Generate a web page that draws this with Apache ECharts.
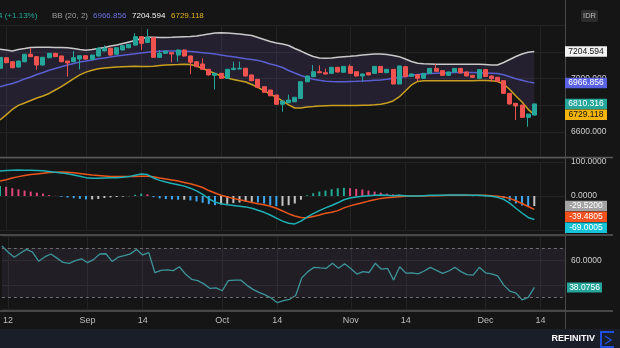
<!DOCTYPE html>
<html><head><meta charset="utf-8">
<script src="https://cdn.jsdelivr.net/npm/echarts/dist/echarts.min.js"></script>
<style>html,body{margin:0;padding:0;background:#151515;}#c{width:620px;height:348px;}</style>
</head><body><div id="c"></div><script>
// ---------- data ----------
const dates = [
 '08-11','08-12','08-15','08-16','08-18','08-19','08-22','08-23','08-24','08-25','08-26','08-29','08-30','08-31',
 '09-01','09-02','09-05','09-06','09-07','09-08','09-09','09-12','09-13','09-14','09-15','09-16','09-19','09-20','09-21','09-22','09-23','09-26','09-27','09-28','09-29','09-30',
 '10-03','10-04','10-05','10-06','10-07','10-10','10-11','10-12','10-13','10-14','10-17','10-18','10-19','10-20','10-21','10-24','10-25','10-26','10-27','10-28','10-31',
 '11-01','11-02','11-03','11-04','11-07','11-08','11-09','11-10','11-11','11-14','11-15','11-16','11-17','11-18','11-21','11-22','11-23','11-24','11-25','11-28','11-29','11-30',
 '12-01','12-02','12-05','12-06','12-07','12-08','12-09','12-12','12-13',
 '12-14','12-15','12-16','12-19','12-20'
];
const tickDates = ['08-12','09-01','09-14','10-03','10-14','11-01','11-14','12-01','12-14'];
const tickLabels = ['12','Sep','14','Oct','14','Nov','14','Dec','14'];

const opens = [7078,7157,7127,7087,7127,7183,7165,7102,7157,7190,
 7170,7132,7127,7147,7172,7145,7170,7208,7228,7183,
 7215,7232,7252,7315,7272,7307,7160,7190,7195,7177,
 7215,7170,7127,7110,7070,7025,7040,7003,7068,7073,
 7078,7028,6995,6940,6915,6877,6808,6820,6827,6852,
 6977,7015,7052,7045,7040,7085,7048,7092,7052,7020,
 7045,7040,7092,7045,7070,6960,7090,7018,7030,7003,
 7040,7077,7060,7025,7050,7077,7050,7025,7003,7068,
 7020,7010,6985,6890,6815,6802,6710,6727];
const closes = [7160,7120,7082,7132,7183,7165,7102,7160,7190,7165,
 7127,7118,7157,7172,7147,7177,7228,7228,7177,7232,
 7247,7257,7315,7265,7310,7160,7190,7207,7185,7215,
 7170,7123,7090,7070,7028,7040,7003,7070,7078,7078,
 7020,6985,6935,6898,6872,6808,6832,6840,6860,6977,
 7020,7052,7045,7035,7085,7050,7092,7040,7020,7035,
 7028,7092,7047,7070,6960,7095,7015,7035,7003,7040,
 7077,7055,7025,7050,7077,7043,7020,7010,7068,7017,
 7000,6980,6890,6810,6795,6710,6734,6810.316];
const lows = [7070,7115,7078,7083,7122,7160,7065,7098,7153,7162,
 7123,7015,7123,7070,7143,7141,7166,7204,7173,7179,
 7211,7228,7248,7215,7268,7156,7156,7186,7123,7127,
 7166,7033,7086,7066,7024,6920,6999,6999,7064,7070,
 7016,6981,6931,6894,6868,6804,6752,6816,6823,6848,
 6973,7011,7041,7031,7036,7046,7044,7036,7016,6980,
 7024,7036,7043,7041,6956,6956,7011,7014,6980,6999,
 7036,7051,7021,7021,7046,7039,7016,7006,6999,7013,
 6975,6976,6886,6806,6690,6706,6640,6723];
const highs = [7165,7160,7130,7136,7186,7228,7168,7163,7193,7194,
 7173,7135,7207,7175,7175,7180,7235,7250,7231,7235,
 7250,7260,7340,7318,7372,7310,7215,7210,7198,7218,
 7218,7173,7130,7152,7073,7043,7043,7073,7127,7127,
 7081,7031,6998,6943,6918,6880,6835,6880,6863,6980,
 7023,7102,7100,7075,7088,7088,7095,7107,7055,7038,
 7048,7095,7095,7073,7073,7098,7093,7038,7033,7043,
 7080,7110,7063,7053,7080,7080,7053,7028,7071,7071,
 7023,7013,6988,6893,6818,6805,6737,6813];

const bbUpper = [7220,7215,7207,7219,7226,7234,7235,7235,7235,7234,
 7233,7231,7226,7219,7213,7219,7226,7234,7245,7252,
 7264,7275,7286,7301,7311,7311,7309,7309,7310,7312,
 7314,7316,7320,7327,7335,7342,7345,7342,7339,7335,
 7330,7324,7309,7294,7279,7267,7260,7249,7226,7207,
 7185,7166,7155,7153,7155,7161,7165,7168,7172,7177,
 7181,7185,7185,7181,7174,7165,7147,7129,7115,7111,
 7110,7108,7108,7108,7108,7108,7108,7108,7108,7106,
 7102,7102,7121,7144,7166,7185,7198,7204.594];
const bbMiddle = [6940,6952,6964,6979,6998,7012,7031,7046,7063,7076,
 7089,7102,7114,7125,7132,7140,7149,7155,7162,7170,
 7176,7181,7186,7192,7198,7202,7205,7208,7208,7207,
 7206,7203,7200,7195,7190,7185,7177,7170,7164,7157,
 7150,7144,7137,7125,7110,7099,7084,7061,7042,7024,
 7009,6996,6988,6981,6978,6977,6977,6979,6980,6982,
 6985,6988,6990,6996,7003,7009,7016,7025,7031,7035,
 7038,7041,7043,7045,7046,7046,7046,7046,7045,7043,
 7041,7039,7029,7015,7000,6988,6976,6966.856];
const bbLower = [6690,6728,6769,6800,6818,6836,6855,6870,6889,6915,
 6941,6971,7001,7028,7049,7063,7074,7080,7084,7088,
 7090,7092,7093,7092,7091,7094,7098,7102,7104,7106,
 7109,7106,7095,7076,7058,7040,7020,7005,6994,6984,
 6975,6956,6934,6908,6885,6859,6833,6803,6780,6780,
 6788,6791,6795,6797,6798,6799,6799,6799,6799,6800,
 6801,6804,6808,6818,6833,6863,6908,6953,6979,6984,
 6985,6985,6985,6985,6985,6985,6985,6985,6986,6986,
 6985,6979,6960,6919,6870,6825,6770,6729.118];

const macdLine = [73.5,75,76,76.5,76,76,75,74,72,70,
 68,65.5,62,58,54,52,52,53,53.5,54,
 55,57,61,65,63,53,46,41,37,33,
 29,23,15,5,-8,-18,-23,-26,-28,-30,
 -32,-36,-42,-48,-56,-65,-74,-80,-82,-74,
 -62,-52,-43,-35,-28,-20,-11,-6,-3,-1,
 1,2,3,2,1,2,1,0,0,1,
 2,2,2,3,3,3,3,2,2,1,
 -1,-4,-10,-21,-36,-50,-63,-69.0005];
const signalLine = [44,48,53,57,60,63,65,67,69,69.5,
 70.5,70,68.5,66.5,64,62,60.5,59,57.5,57,
 57,57.5,57.5,58,58,56.5,53,50,47,44,
 40,36,31,25,16,9,2,-3,-7,-11,
 -15,-19,-23,-26,-30,-36,-44,-52,-59,-63,
 -64,-60,-56,-51,-48,-43,-35,-29,-24,-20,
 -15,-11,-7,-5,-4,-2,-1,0,0,0,
 0.5,1,1.5,2,2,2,2.5,2.5,2,2,
 1,-1,-3,-7,-14,-22,-31,-39.4805];
const macdHist = [29.5,27,23,19.5,16,13,10,7,3,0.5,
 -2.5,-4.5,-6.5,-8.5,-10,-10,-8.5,-6,-4,-3,
 -2,-0.5,3.5,7,5,-3.5,-7,-9,-10,-11,
 -11,-13,-16,-20,-24,-27,-25,-23,-21,-19,
 -17,-17,-19,-22,-27,-30,-29,-27,-22,-11,
 2,8,13,16,20,23,24,23,21,19,
 16,13,10,7,5,4,2,1,0.5,1,
 1.5,1,0.8,1,1.2,1,0.5,-0.5,-0.3,-1,
 -2,-3,-7,-14,-22,-28,-32,-29.52];
const rsiLine = [71.9,67,62.7,66,69.2,67,59.5,63,65.4,62,
 58.5,57.8,60,61.5,58.3,61,65.4,65.6,59.3,62.8,
 64,65.5,69,64.6,66.5,50.1,52,52.5,51.8,55,
 49,44.7,43.6,41,37.3,37.8,35.4,43.6,44,44.1,
 40,36.5,34,32,29.5,25.6,27.3,28.4,31.5,46,
 51,54.5,54,53.7,57.8,53.7,57.5,53.5,49,51,
 50.3,57.8,53,53.7,44.1,55,49.8,50,49.2,51.5,
 54.5,52,49.6,51.5,54.5,51,48.5,48.2,54.5,50,
 49.2,47.5,40,35,33.5,28,30,38.0756];
const rsiLevels = [70, 30];
const changeText = '4 (+1.13%)';
const bbTitle = 'BB (20, 2)';

// ---------- chart ----------
const FONT = "'Liberation Sans', Arial, sans-serif";
const chart = echarts.init(document.getElementById('c'));
const candles = opens.map((o, i) => [o, closes[i], lows[i], highs[i]]);
const tickFn = (idx, val) => tickDates.indexOf(val) >= 0;
const GRID_LINE = '#232323';

function xAx(k) {
  return {
    type: 'category', gridIndex: k, data: dates, boundaryGap: false,
    axisLine: { show: false }, axisTick: { show: false },
    axisLabel: k === 2 ? {
      show: true, interval: tickFn, margin: 6, fontSize: 9, color: '#bdbdbd', fontFamily: FONT,
      formatter: v => tickLabels[tickDates.indexOf(v)] || ''
    } : { show: false },
    splitLine: { show: true, interval: tickFn, lineStyle: { color: GRID_LINE, width: 1 } }
  };
}
function yAx(k, min, max, interval, fmt) {
  return {
    type: 'value', gridIndex: k, position: 'right', min, max, interval, scale: false,
    axisLine: { show: false }, axisTick: { show: false },
    axisLabel: { margin: 6, fontSize: 8.5, color: '#cfcfcf', fontFamily: FONT, formatter: fmt },
    splitLine: { show: true, lineStyle: { color: GRID_LINE, width: 1 } }
  };
}

const histColor = p => {
  const i = p.dataIndex, v = macdHist[i];
  const prev = i > 0 ? macdHist[i - 1] : v - 1;
  if (v >= 0) return v >= prev ? '#22a893' : '#e0457b';
  return v < prev ? '#3ea5ef' : '#c4c4c4';
};

const option = {
  backgroundColor: '#151515',
  animation: false,
  textStyle: { fontFamily: FONT },
  grid: [
    { left: 0, right: 55, top: 25.33, height: 133.33 },
    { left: 0, right: 55, top: 162, height: 68 },
    { left: 0, right: 55, top: 236.1, height: 73.5 }
  ],
  xAxis: [xAx(0), xAx(1), xAx(2)],
  yAxis: [
    yAx(0, 6400, 7400, 200, v => (v === 6400 || v === 7400) ? '' : v.toFixed(3)),
    yAx(1, -100, 100, 100, v => v === -100 ? '' : v.toFixed(4)),
    yAx(2, 20, 80, 20, v => v === 60 ? v.toFixed(4) : '')
  ],
  series: [
    {
      type: 'custom', xAxisIndex: 0, yAxisIndex: 0, z: 1, silent: true, clip: true,
      data: [[0, bbUpper[0]]],
      renderItem: (params, api) => {
        const pts = [];
        for (let i = 0; i < bbUpper.length; i++) pts.push(api.coord([i, bbUpper[i]]));
        for (let i = bbLower.length - 1; i >= 0; i--) pts.push(api.coord([i, bbLower[i]]));
        return { type: 'polygon', shape: { points: pts }, style: { fill: 'rgba(125,100,205,0.14)' } };
      }
    },
    { type: 'line', xAxisIndex: 0, yAxisIndex: 0, data: bbUpper, symbol: 'none', z: 2,
      lineStyle: { color: '#c9c9c9', width: 1.5 } },
    { type: 'line', xAxisIndex: 0, yAxisIndex: 0, data: bbMiddle, symbol: 'none', z: 2,
      lineStyle: { color: '#5a5fd0', width: 1.5 } },
    { type: 'line', xAxisIndex: 0, yAxisIndex: 0, data: bbLower, symbol: 'none', z: 2,
      lineStyle: { color: '#c9a020', width: 1.5 } },
    { type: 'candlestick', xAxisIndex: 0, yAxisIndex: 0, data: candles, barWidth: 4.5, z: 3,
      itemStyle: { color: '#26a69a', color0: '#ef5350', borderColor: '#26a69a', borderColor0: '#ef5350', borderWidth: 1 } },
    { type: 'bar', xAxisIndex: 1, yAxisIndex: 1, data: macdHist, barWidth: 2,
      itemStyle: { color: histColor } },
    { type: 'line', xAxisIndex: 1, yAxisIndex: 1, data: signalLine, symbol: 'none',
      lineStyle: { color: '#e8561e', width: 1.5 } },
    { type: 'line', xAxisIndex: 1, yAxisIndex: 1, data: macdLine, symbol: 'none',
      lineStyle: { color: '#1fb0b6', width: 1.5 } },
    { type: 'line', xAxisIndex: 2, yAxisIndex: 2, data: rsiLine, symbol: 'none',
      lineStyle: { color: '#3d949a', width: 1.3 },
      markArea: { silent: true, itemStyle: { color: 'rgba(150,130,190,0.10)' },
        data: [[{ yAxis: rsiLevels[0] }, { yAxis: rsiLevels[1] }]] },
      markLine: { silent: true, symbol: 'none', label: { show: false },
        lineStyle: { color: '#6e6e6e', type: [3, 3], width: 1 },
        data: rsiLevels.map(v => ({ yAxis: v })) } }
  ]
};
chart.setOption(option);

// ---------- overlays ----------
const Z = 100;
const g = [];
const fmt = (v, d) => v.toFixed(d);
const last = closes.length - 1;

function stack(items, h) {
  items.sort((a, b) => a.y - b.y);
  for (let k = 1; k < items.length; k++)
    if (items[k].y < items[k - 1].y + h) items[k].y = items[k - 1].y + h;
}
function boxes(axisIdx, items, x, w, h) {
  items.forEach(it => { it.y = chart.convertToPixel({ yAxisIndex: axisIdx }, it.v); });
  stack(items, h + 0.3);
  items.forEach(it => {
    g.push({ type: 'rect', z: Z + 2, shape: { x: x, y: it.y - h / 2, width: w, height: h },
      style: { fill: it.bg } });
    g.push({ type: 'text', z: Z + 3, x: x + w / 2, y: it.y,
      style: { text: it.t, fill: it.fg, fontSize: 8.5, fontFamily: FONT, align: 'center', verticalAlign: 'middle' } });
  });
}

// separators and frame
g.push({ type: 'rect', z: Z, shape: { x: 0, y: 329, width: 620, height: 19 }, style: { fill: '#1a1e29' } });
[157.5, 235, 311].forEach(y => g.push({ type: 'line', z: Z, shape: { x1: 0, y1: y, x2: 613, y2: y },
  style: { stroke: '#595959', lineWidth: 1.5 } }));
g.push({ type: 'line', z: Z, shape: { x1: 565.5, y1: 0, x2: 565.5, y2: 329 }, style: { stroke: '#4a4a4a', lineWidth: 1 } });

// legend texts
const leg = [
  { t: changeText, x: -2, c: '#26a69a' },
  { t: bbTitle, x: 52, c: '#9e9e9e' },
  { t: fmt(bbMiddle[last], 3), x: 93, c: '#6b70e0' },
  { t: fmt(bbUpper[last], 3), x: 132, c: '#f2f2f2' },
  { t: fmt(bbLower[last], 3), x: 171, c: '#e2b21e' }
];
leg.forEach(l => g.push({ type: 'text', z: Z, x: l.x, y: 16,
  style: { text: l.t, fill: l.c, fontSize: 8, fontFamily: FONT, align: 'left', verticalAlign: 'middle' } }));

// IDR box
g.push({ type: 'rect', z: Z, shape: { x: 581, y: 10, width: 17, height: 12, r: 2 }, style: { fill: '#2c2c2c' } });
g.push({ type: 'text', z: Z + 1, x: 589.5, y: 16,
  style: { text: 'IDR', fill: '#bdbdbd', fontSize: 7.5, fontFamily: FONT, align: 'center', verticalAlign: 'middle' } });

// value boxes
boxes(0, [
  { v: bbUpper[last], t: fmt(bbUpper[last], 3), bg: '#f2f2f2', fg: '#151515' },
  { v: bbMiddle[last], t: fmt(bbMiddle[last], 3), bg: '#5a62e4', fg: '#ffffff' },
  { v: closes[last], t: fmt(closes[last], 3), bg: '#26a69a', fg: '#ffffff' },
  { v: bbLower[last], t: fmt(bbLower[last], 3), bg: '#f2b40d', fg: '#151515' }
], 565, 42, 10.5);
boxes(1, [
  { v: macdHist[last], t: fmt(macdHist[last], 4), bg: '#a3a3a3', fg: '#ffffff' },
  { v: signalLine[last], t: fmt(signalLine[last], 4), bg: '#f4511e', fg: '#ffffff' },
  { v: macdLine[last], t: fmt(macdLine[last], 4), bg: '#16c3d6', fg: '#ffffff' }
], 565, 42, 10.5);
boxes(2, [
  { v: rsiLine[last], t: fmt(rsiLine[last], 4), bg: '#26a69a', fg: '#ffffff' }
], 567, 35, 10);

// brand
g.push({ type: 'text', z: Z + 1, x: 595, y: 339,
  style: { text: 'REFINITIV', fill: '#ffffff', fontSize: 9, fontWeight: 'bold', fontFamily: FONT, align: 'right', verticalAlign: 'middle' } });
g.push({ type: 'polyline', z: Z + 1, shape: { points: [[614, 332], [601, 332], [601, 347], [614, 347]] },
  style: { stroke: '#1e4fe0', lineWidth: 2, fill: 'none' } });
g.push({ type: 'polyline', z: Z + 1, shape: { points: [[605, 336], [611, 340], [605, 344]] },
  style: { stroke: '#1e4fe0', lineWidth: 1.5, fill: 'none' } });

chart.setOption({ graphic: g });
</script></body></html>
